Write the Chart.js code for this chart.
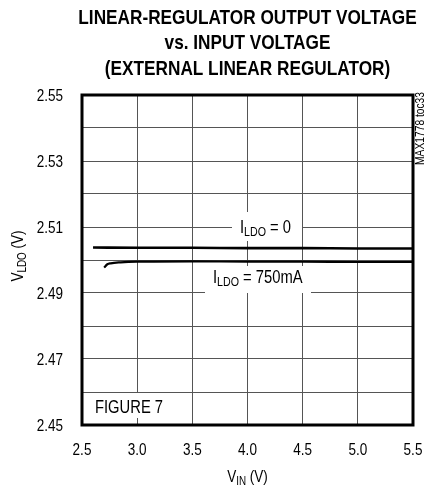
<!DOCTYPE html>
<html>
<head>
<meta charset="utf-8">
<script src="https://cdn.jsdelivr.net/npm/chart.js@4.4.1/dist/chart.umd.min.js"></script>
<style>
html,body{margin:0;padding:0;background:#fff;}
#wrap{width:426px;height:489px;position:relative;}
</style>
</head>
<body>
<div id="wrap"><canvas id="c" width="426" height="489"></canvas></div>
<script>
// ---- data ----
const vinNoLoad = [2.6, 3.0, 3.5, 4.0, 4.5, 5.0, 5.5];
const vldoNoLoad = [2.5038, 2.5037, 2.5037, 2.5036, 2.5036, 2.5035, 2.5035];
const vin750 = [2.70, 2.73, 2.76, 2.85, 3.0, 3.5, 4.0, 4.5, 5.0, 5.5];
const vldo750 = [2.4977, 2.4987, 2.4990, 2.4993, 2.4995, 2.4996, 2.4995, 2.4995, 2.4994, 2.4994];
const xTicks = [2.5, 3.0, 3.5, 4.0, 4.5, 5.0, 5.5];
const xTickLabels = ['2.5', '3.0', '3.5', '4.0', '4.5', '5.0', '5.5'];
const yTicks = [2.45, 2.46, 2.47, 2.48, 2.49, 2.50, 2.51, 2.52, 2.53, 2.54, 2.55];
const yTickLabels = ['2.45', '', '2.47', '', '2.49', '', '2.51', '', '2.53', '', '2.55'];
const titleLines = ['LINEAR-REGULATOR OUTPUT VOLTAGE', 'vs. INPUT VOLTAGE', '(EXTERNAL LINEAR REGULATOR)'];

const FF = '"Liberation Sans", Arial, sans-serif';
const SX = 0.82; // condensed look (Arial Narrow style)

function toPts(xs, ys) { return xs.map((x, i) => ({x: x, y: ys[i]})); }

function drawParts(ctx, parts, x, y, align) {
  let w = 0;
  parts.forEach(p => { ctx.font = (p.bold ? 'bold ' : '') + p.size + 'px ' + FF; p.w = ctx.measureText(p.t).width * SX; w += p.w; });
  let cx = align === 'center' ? x - w / 2 : (align === 'right' ? x - w : x);
  ctx.textAlign = 'left';
  ctx.textBaseline = 'alphabetic';
  parts.forEach(p => {
    ctx.font = (p.bold ? 'bold ' : '') + p.size + 'px ' + FF;
    ctx.save();
    ctx.translate(cx, y + (p.dy || 0));
    ctx.scale(SX, 1);
    ctx.fillText(p.t, 0, 0);
    ctx.restore();
    cx += p.w;
  });
  return w;
}

const decor = {
  id: 'decor',
  beforeDatasetsDraw(chart) {
    const ctx = chart.ctx;
    ctx.save();
    ctx.fillStyle = '#fff';
    ctx.fillRect(232, 212, 70, 29);
    ctx.fillRect(205, 266, 106, 27);
    ctx.fillRect(90, 393, 77, 25);
    ctx.fillStyle = '#000';
    drawParts(ctx, [{t: 'I', size: 18}, {t: 'LDO', size: 13, dy: 3}, {t: ' = 0', size: 18}], 240, 233, 'left');
    drawParts(ctx, [{t: 'I', size: 18}, {t: 'LDO', size: 13, dy: 3}, {t: ' = 750mA', size: 18}], 213, 283, 'left');
    drawParts(ctx, [{t: 'FIGURE 7', size: 18}], 95, 413, 'left');
    ctx.restore();
  },
  afterDatasetsDraw(chart) {
    const ctx = chart.ctx, a = chart.chartArea;
    ctx.save();
    ctx.strokeStyle = '#000';
    ctx.lineWidth = 3;
    ctx.strokeRect(a.left, a.top, a.right - a.left, a.bottom - a.top);
    ctx.restore();
  },
  afterDraw(chart) {
    const ctx = chart.ctx, a = chart.chartArea;
    const xs = chart.scales.x, ys = chart.scales.y;
    ctx.save();
    ctx.fillStyle = '#000';
    // tick labels, positioned through the chart's own scales
    xTicks.forEach((v, i) => drawParts(ctx, [{t: xTickLabels[i], size: 16.5}], xs.getPixelForValue(v), a.bottom + 30, 'center'));
    yTicks.forEach((v, i) => { if (yTickLabels[i]) drawParts(ctx, [{t: yTickLabels[i], size: 16.5}], a.left - 19, ys.getPixelForValue(v) + 6, 'right'); });
    const cx = (a.left + a.right) / 2;
    titleLines.forEach((t, i) => drawParts(ctx, [{t: t, size: 21, bold: true}], cx, 23.5 + i * 25.5, 'center'));
    drawParts(ctx, [{t: 'V', size: 16.5}, {t: 'IN', size: 12, dy: 3}, {t: ' (V)', size: 16.5}], cx, 482, 'center');
    ctx.translate(23, 256);
    ctx.rotate(-Math.PI / 2);
    drawParts(ctx, [{t: 'V', size: 16.5}, {t: 'LDO', size: 12, dy: 3}, {t: ' (V)', size: 16.5}], 0, 0, 'center');
    ctx.restore();
    ctx.save();
    ctx.fillStyle = '#000';
    ctx.translate(424, 92);
    ctx.rotate(-Math.PI / 2);
    drawParts(ctx, [{t: 'MAX1778 toc33', size: 12.5}], 0, 0, 'right');
    ctx.restore();
  }
};

new Chart(document.getElementById('c'), {
  type: 'line',
  data: {
    datasets: [
      {label: 'ILDO = 0', data: toPts(vinNoLoad, vldoNoLoad), borderColor: '#000', borderWidth: 2.6, pointRadius: 0, cubicInterpolationMode: 'monotone', fill: false},
      {label: 'ILDO = 750mA', data: toPts(vin750, vldo750), borderColor: '#000', borderWidth: 2.2, pointRadius: 0, cubicInterpolationMode: 'monotone', fill: false}
    ]
  },
  options: {
    responsive: false,
    animation: false,
    devicePixelRatio: 1,
    layout: {padding: {top: 95, right: 13, bottom: 0, left: 0}},
    plugins: {legend: {display: false}, title: {display: false}, tooltip: {enabled: false}},
    scales: {
      x: {
        type: 'linear', min: 2.5, max: 5.5,
        afterBuildTicks: s => { s.ticks = xTicks.map(v => ({value: v})); },
        afterFit: s => { s.height = 64; },
        ticks: {display: false},
        grid: {color: '#555', lineWidth: 1, drawTicks: false},
        border: {display: false}
      },
      y: {
        type: 'linear', min: 2.45, max: 2.55,
        afterBuildTicks: s => { s.ticks = yTicks.map(v => ({value: v})); },
        afterFit: s => { s.width = 82; },
        ticks: {display: false},
        grid: {color: '#555', lineWidth: 1, drawTicks: false},
        border: {display: false}
      }
    }
  },
  plugins: [decor]
});
</script>
</body>
</html>
